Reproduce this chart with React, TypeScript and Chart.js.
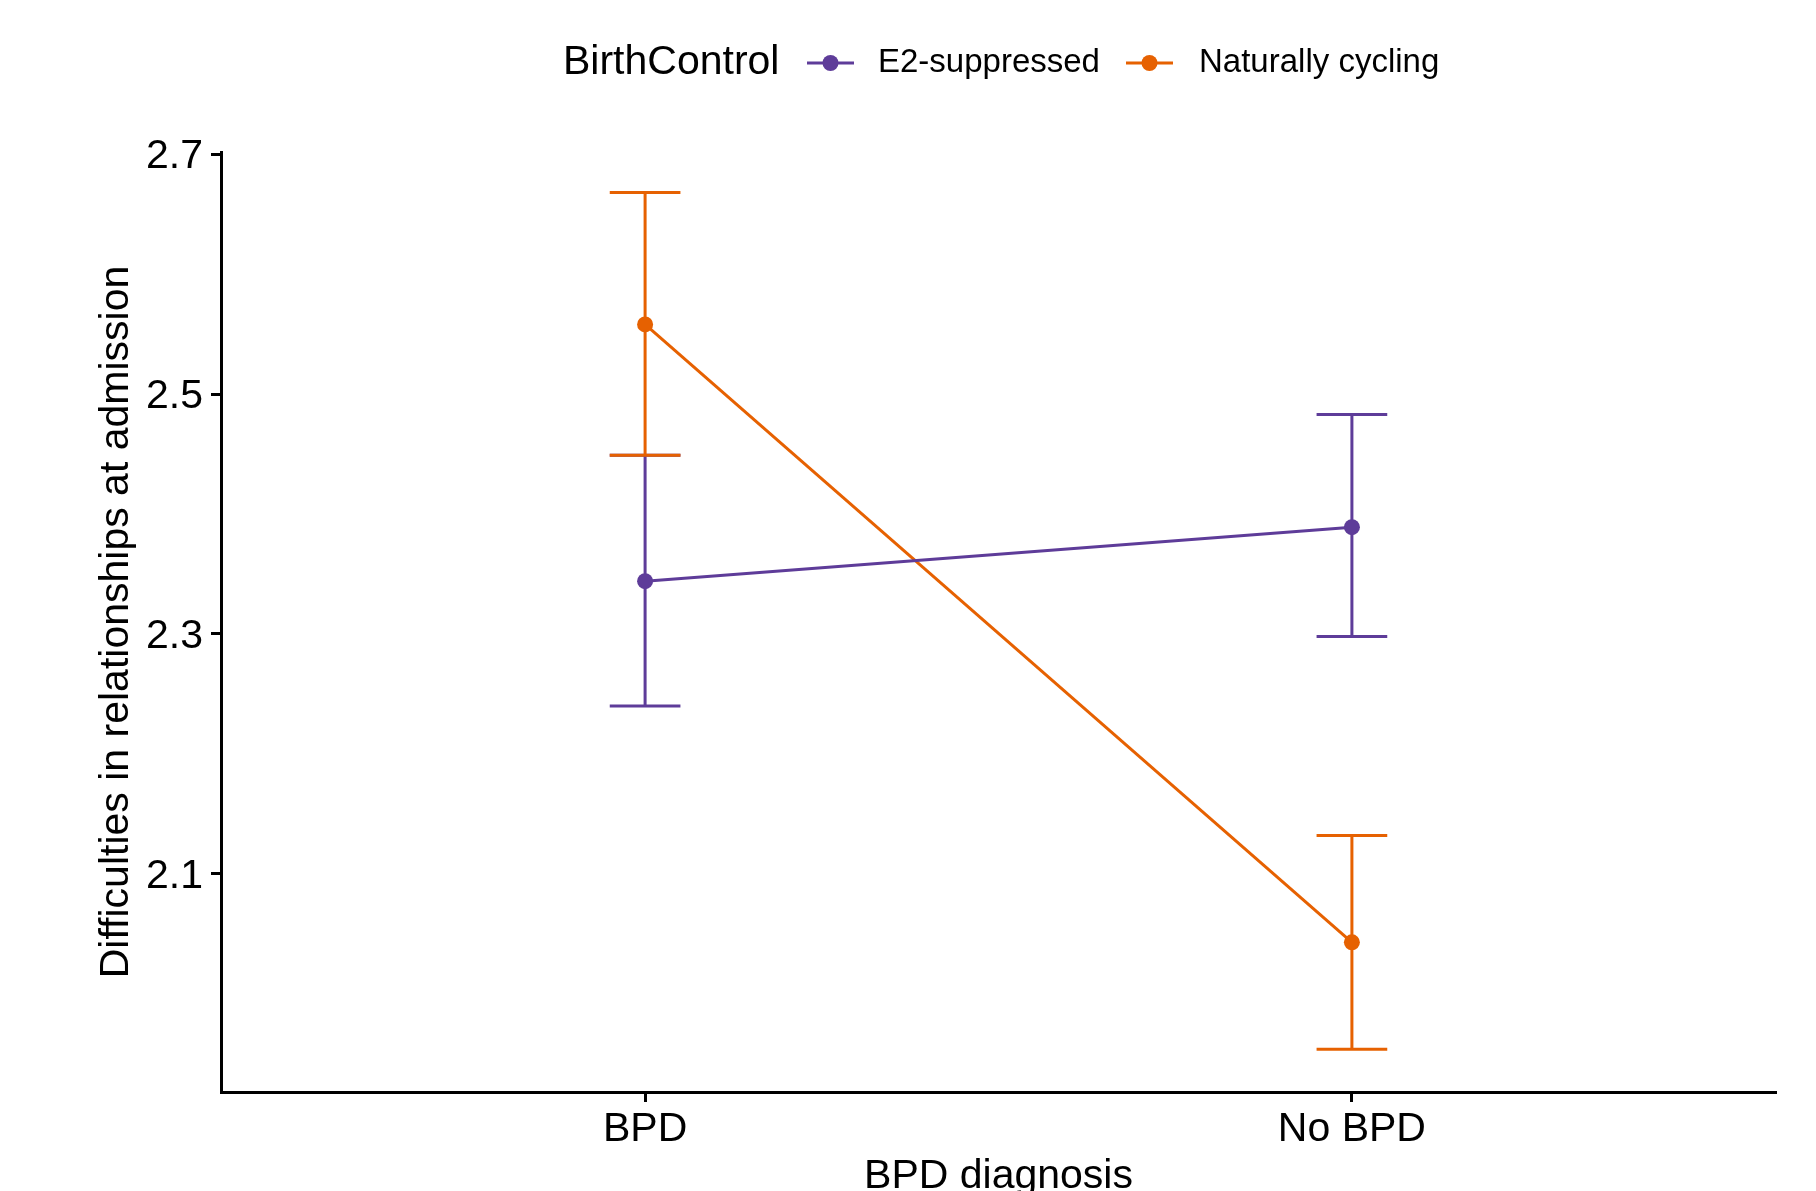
import React, { useEffect, useRef } from 'react';
import { Chart, registerables } from 'chart.js';

Chart.register(...registerables);

// ---- Data ----
const categories = ['BPD', 'No BPD'];
const xPositions = [1, 2];
const e2Mean = [2.344, 2.389];
const e2Lower = [2.240, 2.298];
const e2Upper = [2.449, 2.483];
const ncMean = [2.558, 2.043];
const ncLower = [2.449, 1.954];
const ncUpper = [2.668, 2.132];
const yTicks = [2.1, 2.3, 2.5, 2.7];
const legendTitle = 'BirthControl';
const seriesNames = ['E2-suppressed', 'Naturally cycling'];
const xTitle = 'BPD diagnosis';
const yTitle = 'Difficulties in relationships at admission';

const PURPLE = '#5E3C99';
const ORANGE = '#E66101';
const FONT = '"Liberation Sans", Arial, Helvetica, sans-serif';

const errorSets = [
  { color: PURPLE, lower: e2Lower, upper: e2Upper },
  { color: ORANGE, lower: ncLower, upper: ncUpper },
];

const errorBarPlugin = {
  id: 'errorBars',
  beforeDatasetsDraw(chart: any) {
    const { ctx, scales } = chart;
    const x = scales.x;
    const y = scales.y;
    errorSets.forEach((set) => {
      ctx.save();
      ctx.strokeStyle = set.color;
      ctx.lineWidth = 3;
      ctx.lineCap = 'butt';
      xPositions.forEach((xv, j) => {
        const px = x.getPixelForValue(xv);
        const pl = x.getPixelForValue(xv - 0.05);
        const pr = x.getPixelForValue(xv + 0.05);
        const yl = y.getPixelForValue(set.lower[j]);
        const yu = y.getPixelForValue(set.upper[j]);
        ctx.beginPath();
        ctx.moveTo(px, yu);
        ctx.lineTo(px, yl);
        ctx.moveTo(pl, yu);
        ctx.lineTo(pr, yu);
        ctx.moveTo(pl, yl);
        ctx.lineTo(pr, yl);
        ctx.stroke();
      });
      ctx.restore();
    });
  },
};

const legendLayout = {
  cy: 63,
  titleX: 563,
  symbolX: [807, 1126],
  textX: [878, 1199],
};

const legendPlugin = {
  id: 'customLegend',
  afterDraw(chart: any) {
    const { ctx } = chart;
    const { cy, titleX, symbolX, textX } = legendLayout;
    ctx.save();
    ctx.fillStyle = '#000';
    ctx.textBaseline = 'middle';
    ctx.textAlign = 'left';
    ctx.font = `41px ${FONT}`;
    ctx.fillText(legendTitle, titleX, cy);
    const colors = [PURPLE, ORANGE];
    ctx.font = `33px ${FONT}`;
    seriesNames.forEach((name, i) => {
      const x = symbolX[i];
      ctx.strokeStyle = colors[i];
      ctx.fillStyle = colors[i];
      ctx.lineWidth = 3;
      ctx.beginPath();
      ctx.moveTo(x, cy);
      ctx.lineTo(x + 47, cy);
      ctx.stroke();
      ctx.beginPath();
      ctx.arc(x + 23.5, cy, 8, 0, Math.PI * 2);
      ctx.fill();
      ctx.fillStyle = '#000';
      ctx.fillText(name, textX[i], cy);
    });
    ctx.restore();
  },
};

export default function App() {
  const ref = useRef<HTMLCanvasElement | null>(null);

  useEffect(() => {
    if (!ref.current) return;
    Chart.defaults.font.family = FONT;
    const chart = new Chart(ref.current, {
      type: 'line',
      data: {
        datasets: [
          {
            label: seriesNames[0],
            data: xPositions.map((xv, i) => ({ x: xv, y: e2Mean[i] })),
            borderColor: PURPLE,
            backgroundColor: PURPLE,
            borderWidth: 3,
            pointRadius: 8,
            pointBorderWidth: 0,
            pointBackgroundColor: PURPLE,
            tension: 0,
            clip: false as any,
          },
          {
            label: seriesNames[1],
            data: xPositions.map((xv, i) => ({ x: xv, y: ncMean[i] })),
            borderColor: ORANGE,
            backgroundColor: ORANGE,
            borderWidth: 3,
            pointRadius: 8,
            pointBorderWidth: 0,
            pointBackgroundColor: ORANGE,
            tension: 0,
            clip: false as any,
          },
        ],
      },
      options: {
        responsive: false,
        animation: false,
        layout: { padding: { top: 152, right: 40, left: 0, bottom: 0 } },
        plugins: {
          legend: { display: false },
          tooltip: { enabled: false },
        },
        scales: {
          x: {
            type: 'linear',
            min: 0.4,
            max: 2.6,
            afterBuildTicks: (s: any) => {
              s.ticks = xPositions.map((v) => ({ value: v }));
            },
            afterFit: (s: any) => {
              s.height = 99;
            },
            ticks: {
              autoSkip: false,
              maxRotation: 0,
              padding: 3,
              color: '#000',
              font: { size: 41, family: FONT },
              callback: (v: any) => categories[xPositions.indexOf(Number(v))],
            },
            grid: {
              drawOnChartArea: false,
              drawTicks: true,
              tickLength: 10,
              tickWidth: 3,
              tickColor: '#000',
            },
            border: { display: true, color: '#000', width: 3 },
            title: {
              display: true,
              text: xTitle,
              color: '#000',
              font: { size: 41, family: FONT, lineHeight: 0.7 },
              padding: 0,
            },
          },
          y: {
            type: 'linear',
            min: 1.9183,
            max: 2.7017,
            afterBuildTicks: (s: any) => {
              s.ticks = yTicks.map((v) => ({ value: v }));
            },
            afterFit: (s: any) => {
              s.width = 221;
            },
            ticks: {
              padding: 8,
              labelOffset: 2.5,
              color: '#000',
              font: { size: 41, family: FONT },
              callback: (v: any) => Number(v).toFixed(1),
            },
            grid: {
              drawOnChartArea: false,
              drawTicks: true,
              tickLength: 10,
              tickWidth: 3,
              tickColor: '#000',
            },
            border: { display: true, color: '#000', width: 3 },
            title: {
              display: true,
              text: yTitle,
              color: '#000',
              font: { size: 41, family: FONT, lineHeight: 1.2 },
              padding: { top: 92, bottom: 0 },
            },
          },
        },
      } as any,
      plugins: [errorBarPlugin, legendPlugin],
    });
    return () => chart.destroy();
  }, []);

  return (
    <div style={{ position: 'absolute', left: 0, top: 0, width: 1816, height: 1191, background: '#fff' }}>
      <canvas ref={ref} width={1816} height={1191} style={{ display: 'block' }} />
    </div>
  );
}
